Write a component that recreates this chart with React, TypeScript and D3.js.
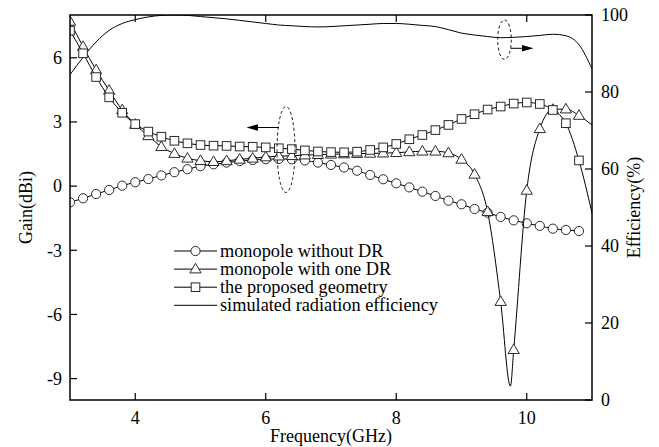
import React from 'react';
import * as d3 from 'd3';

const freqs = [3.0, 3.2, 3.4, 3.6, 3.8, 4.0, 4.2, 4.4, 4.6, 4.8, 5.0, 5.2, 5.4, 5.6, 5.8, 6.0, 6.2, 6.4, 6.6, 6.8, 7.0, 7.2, 7.4, 7.6, 7.8, 8.0, 8.2, 8.4, 8.6, 8.8, 9.0, 9.2, 9.4, 9.6, 9.8, 10.0, 10.2, 10.4, 10.6, 10.8, 11.0];

const gainNoDR = [-0.76, -0.57, -0.37, -0.18, 0.02, 0.18, 0.33, 0.5, 0.65, 0.79, 0.93, 1.02, 1.1, 1.17, 1.22, 1.26, 1.27, 1.25, 1.2, 1.1, 0.99, 0.87, 0.72, 0.52, 0.32, 0.13, -0.06, -0.26, -0.46, -0.68, -0.85, -1.07, -1.24, -1.44, -1.6, -1.74, -1.86, -1.99, -2.05, -2.1];

const gainOneDR = [7.7, 6.52, 5.43, 4.47, 3.56, 2.88, 2.35, 1.84, 1.52, 1.3, 1.19, 1.14, 1.18, 1.25, 1.3, 1.36, 1.4, 1.42, 1.45, 1.47, 1.49, 1.5, 1.52, 1.53, 1.54, 1.56, 1.6, 1.63, 1.63, 1.55, 1.25, 0.55, -1.2, -5.4, -7.65, -0.2, 2.68, 3.58, 3.6, 3.3, 2.86];
const oneDRDipFreq = [9.75];
const oneDRDipGain = [-9.35];

const gainProposed = [7.27, 6.21, 5.1, 4.15, 3.43, 2.9, 2.55, 2.31, 2.12, 2.0, 1.92, 1.89, 1.88, 1.85, 1.84, 1.81, 1.77, 1.73, 1.67, 1.62, 1.59, 1.58, 1.61, 1.69, 1.81, 1.97, 2.19, 2.39, 2.62, 2.86, 3.14, 3.36, 3.58, 3.72, 3.86, 3.91, 3.84, 3.56, 2.94, 1.2, -1.26];

const efficiency = [84.5, 89, 93, 96, 97.8, 98.8, 99.5, 99.9, 100, 99.9, 99.6, 99.3, 99, 98.6, 98.2, 97.8, 97.4, 97.2, 97, 96.9, 97, 97.2, 97.4, 97.6, 97.8, 97.8, 97.6, 97.3, 97.0, 96.2, 95.3, 94.8, 94.4, 94.1, 94.2, 94.4, 94.7, 95.0, 94.6, 92.3, 86];

const xTicks = [4, 6, 8, 10];
const gainTicks = [-9, -6, -3, 0, 3, 6];
const effTicks = [0, 20, 40, 60, 80, 100];
const legendLabels = ['monopole without DR', 'monopole with one DR', 'the proposed geometry', 'simulated radiation efficiency'];
const markerLastFreq = 10.8;

const W = 659, H = 447;
const L = 70, R = 592, T = 15, B = 400;
const FONT = '"Liberation Serif", "Times New Roman", serif';

type Pt = [number, number];

function Marker({ kind, x, y }: { kind: string; x: number; y: number }) {
  const st = { fill: '#fff', stroke: '#2a2a2a', strokeWidth: 1 };
  if (kind === 'circle') return <circle cx={x} cy={y} r={4.6} {...st} />;
  if (kind === 'square') return <rect x={x - 4.3} y={y - 4.3} width={8.6} height={8.6} {...st} />;
  return <path d={`M${x},${y - 5.8}L${x + 5.6},${y + 3.8}L${x - 5.6},${y + 3.8}Z`} {...st} />;
}

export default function App() {
  const x = d3.scaleLinear().domain([3, 11]).range([L, R]);
  const yG = d3.scaleLinear().domain([-10, 8]).range([B, T]);
  const yE = d3.scaleLinear().domain([0, 100]).range([B, T]);

  const line = d3.line<Pt>().x(d => x(d[0])).y(d => yG(d[1])).curve(d3.curveMonotoneX);
  const lineE = d3.line<Pt>().x(d => x(d[0])).y(d => yE(d[1])).curve(d3.curveMonotoneX);

  const noDR: Pt[] = gainNoDR.map((g, i) => [freqs[i], g]);
  const oneDR: Pt[] = gainOneDR.map((g, i) => [freqs[i], g]);
  const oneDRLine: Pt[] = [...oneDR, ...oneDRDipFreq.map((f, i) => [f, oneDRDipGain[i]] as Pt)].sort((a, b) => a[0] - b[0]);
  const proposed: Pt[] = gainProposed.map((g, i) => [freqs[i], g]);
  const eff: Pt[] = efficiency.map((e, i) => [freqs[i], e]);

  const series = [
    { kind: 'circle', pts: noDR, linePts: noDR },
    { kind: 'triangle', pts: oneDR, linePts: oneDRLine },
    { kind: 'square', pts: proposed, linePts: proposed },
  ];

  const tick = 7;
  const legendY0 = 251, legendDy = 18.1;

  return (
    <svg width={W} height={H} style={{ position: 'absolute', left: 0, top: 0, background: '#fff' }} fontFamily={FONT}>
      <defs>
        <clipPath id="plotClip">
          <rect x={L} y={T} width={R - L} height={B - T} />
        </clipPath>
      </defs>
      <rect x={0} y={0} width={W} height={H} fill="#fff" />
      <g clipPath="url(#plotClip)">
        <path d={lineE(eff) || ''} fill="none" stroke="#000" strokeWidth={1} />
        {series.map(s => (
          <g key={s.kind}>
            <path d={line(s.linePts) || ''} fill="none" stroke="#000" strokeWidth={1} />
            {s.pts.filter(p => p[0] <= markerLastFreq + 1e-9).map((p, i) => (
              <Marker key={i} kind={s.kind} x={x(p[0])} y={yG(p[1])} />
            ))}
          </g>
        ))}
      </g>

      {/* annotations */}
      <ellipse cx={286} cy={149.5} rx={9} ry={43} fill="none" stroke="#000" strokeWidth={0.9} strokeDasharray="3,2.5" />
      <line x1={279} y1={127.5} x2={256} y2={127.5} stroke="#000" strokeWidth={1} />
      <path d="M246.5,127.5L258,124.2L258,130.8Z" fill="#000" />
      <ellipse cx={504.5} cy={39.7} rx={6.8} ry={19.7} fill="none" stroke="#000" strokeWidth={0.9} strokeDasharray="3,2.5" />
      <line x1={510.5} y1={48.3} x2={523} y2={48.3} stroke="#000" strokeWidth={1} />
      <path d="M533.5,48.3L522,45L522,51.6Z" fill="#000" />

      {/* frame */}
      <rect x={L} y={T} width={R - L} height={B - T} fill="none" stroke="#000" strokeWidth={1.5} />

      {/* x ticks */}
      {xTicks.map(t => (
        <g key={'x' + t}>
          <line x1={x(t)} x2={x(t)} y1={B} y2={B - tick} stroke="#000" strokeWidth={1.2} />
          <line x1={x(t)} x2={x(t)} y1={T} y2={T + tick} stroke="#000" strokeWidth={1.2} />
          <text x={x(t)} y={424} fontSize={18} textAnchor="middle">{t}</text>
        </g>
      ))}
      {gainTicks.map(t => (
        <g key={'g' + t}>
          <line x1={L} x2={L + tick} y1={yG(t)} y2={yG(t)} stroke="#000" strokeWidth={1.2} />
          <text x={62} y={yG(t)} dy="0.35em" fontSize={18} textAnchor="end">{t}</text>
        </g>
      ))}
      {effTicks.map(t => (
        <g key={'e' + t}>
          <line x1={R} x2={R - tick} y1={yE(t)} y2={yE(t)} stroke="#000" strokeWidth={1.2} />
          <text x={601} y={yE(t)} dy="0.35em" fontSize={18} textAnchor="start">{t}</text>
        </g>
      ))}

      <text x={(L + R) / 2} y={442} fontSize={18} textAnchor="middle">Frequency(GHz)</text>
      <text transform={`translate(32,${(T + B) / 2}) rotate(-90)`} fontSize={18} textAnchor="middle">Gain(dBi)</text>
      <text transform={`translate(640,${(T + B) / 2}) rotate(-90)`} fontSize={18} textAnchor="middle">Efficiency(%)</text>

      {/* legend */}
      {legendLabels.map((lab, i) => {
        const ly = legendY0 + i * legendDy;
        const kinds = ['circle', 'triangle', 'square', 'none'];
        return (
          <g key={lab}>
            <line x1={174} x2={217} y1={ly} y2={ly} stroke="#000" strokeWidth={1} />
            {kinds[i] !== 'none' && <Marker kind={kinds[i]} x={195.5} y={ly} />}
            <text x={220} y={ly + 6} fontSize={18.3}>{lab}</text>
          </g>
        );
      })}
    </svg>
  );
}
